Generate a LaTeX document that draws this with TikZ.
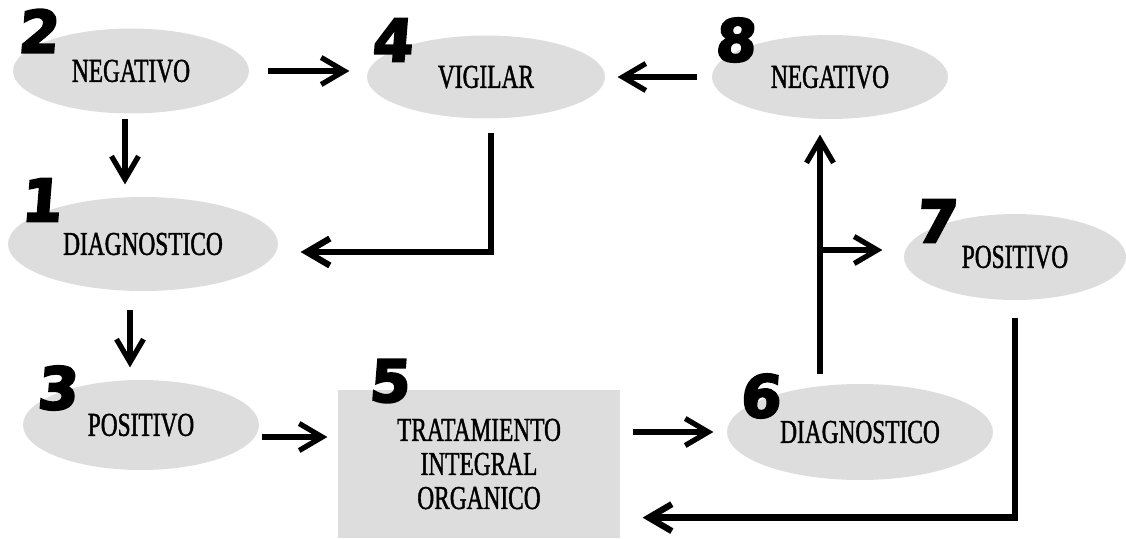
\documentclass[tikz,border=0pt]{standalone}
\usepackage{fontspec}
\setmainfont{Liberation Serif}[FakeStretch=0.7,FakeBold=1.2]
\newfontfamily\numfont{DejaVu Sans}[BoldFeatures={FakeBold=4,FakeSlant=0.08}]
\usetikzlibrary{arrows.meta}
\usetikzlibrary{shapes.geometric}
\usetikzlibrary{calc}

\definecolor{blobgray}{RGB}{221,221,221}

\begin{document}
\begin{tikzpicture}[x=0.02cm, y=-0.02cm,
  >={Straight Barb[length=4.6mm,width=5.4mm]},
  every path/.style={line width=3pt},
  font=\fontsize{19}{20.4}\selectfont,
  blob/.style={ellipse,fill=blobgray,inner sep=0pt},
  treatbox/.style={rectangle,fill=blobgray,minimum width=5.64cm,minimum height=2.96cm,align=center},
  num/.style={font=\numfont\bfseries\fontsize{33}{33}\selectfont,inner sep=0pt},
  link/.style={->,line cap=butt}]

  \useasboundingbox (0,0) rectangle (1126,538);

  % states
  \node[blob,minimum width=4.72cm,minimum height=1.70cm] (neg2)  at (131,71)  {NEGATIVO};
  \node[blob,minimum width=4.76cm,minimum height=1.66cm] (vig)   at (486,77)  {VIGILAR};
  \node[blob,minimum width=4.72cm,minimum height=1.68cm] (neg8)  at (830,77)  {NEGATIVO};
  \node[blob,minimum width=5.40cm,minimum height=1.88cm] (diag1) at (143,244) {DIAGNOSTICO};
  \node[blob,minimum width=4.44cm,minimum height=1.72cm] (pos7)  at (1015,257) {POSITIVO};
  \node[blob,minimum width=4.72cm,minimum height=1.80cm] (pos3)  at (141,425) {POSITIVO};
  \node[blob,minimum width=5.32cm,minimum height=1.92cm] (diag6) at (860,432) {DIAGNOSTICO};
  \node[treatbox] (trat) at (479,464) {TRATAMIENTO\\[-1pt]INTEGRAL\\[-1pt]ORGANICO};

  % step numbers
  \node[num] (n2) at (38,31)   {2};
  \node[num] (n4) at (392,40)  {4};
  \node[num] (n8) at (735,40)  {8};
  \node[num] (n1) at (41,200)  {1};
  \node[num] (n7) at (936,221) {7};
  \node[num] (n3) at (57,388)  {3};
  \node[num] (n5) at (389,381) {5};
  \node[num] (n6) at (760,396) {6};

  \coordinate (split) at (820,250);
  \coordinate (a2) at ($(neg2.south)+(-6,0)$);
  \coordinate (a1) at ($(diag1.south)+(-13,0)$);
  \coordinate (a3) at ($(pos3.east)+(0,12)$);
  \coordinate (a7) at ($(trat.south east)+(0,-23)$);

  % connectors
  \draw[link,shorten <=3.2mm,shorten >=3mm] (neg2.east) -- (neg2.east -| vig.west);
  \draw[link,shorten <=2.4mm,shorten >=2mm] (neg8.west) -- (neg8.west -| vig.east);
  \draw[link,shorten <=0.6mm,shorten >=2mm] (a2) -- (a2 |- diag1.north);
  \draw[link,line width=3.6pt,shorten <=2.4mm,shorten >=4mm] ([xshift=1mm]vig.south) |- ([yshift=-1.6mm]diag1.east);
  \draw[link,shorten <=3.2mm,shorten >=2mm] (a1) -- (a1 |- pos3.north);
  \draw[link,shorten >=1.6mm] (a3) -- (a3 -| trat.west);
  \draw[link,shorten <=2mm,shorten >=2.2mm] (trat.east |- diag6.west) -- (diag6.west);
  \draw[link,shorten <=1.4mm,shorten >=2.6mm] (split |- diag6.north) -- (split |- neg8.south);
  \draw[link,shorten >=3.8mm] (split) -- (split -| pos7.west);
  \draw[link,line width=3.6pt,shorten <=3mm,shorten >=4mm] (pos7.south) |- (a7);
\end{tikzpicture}
\end{document}
